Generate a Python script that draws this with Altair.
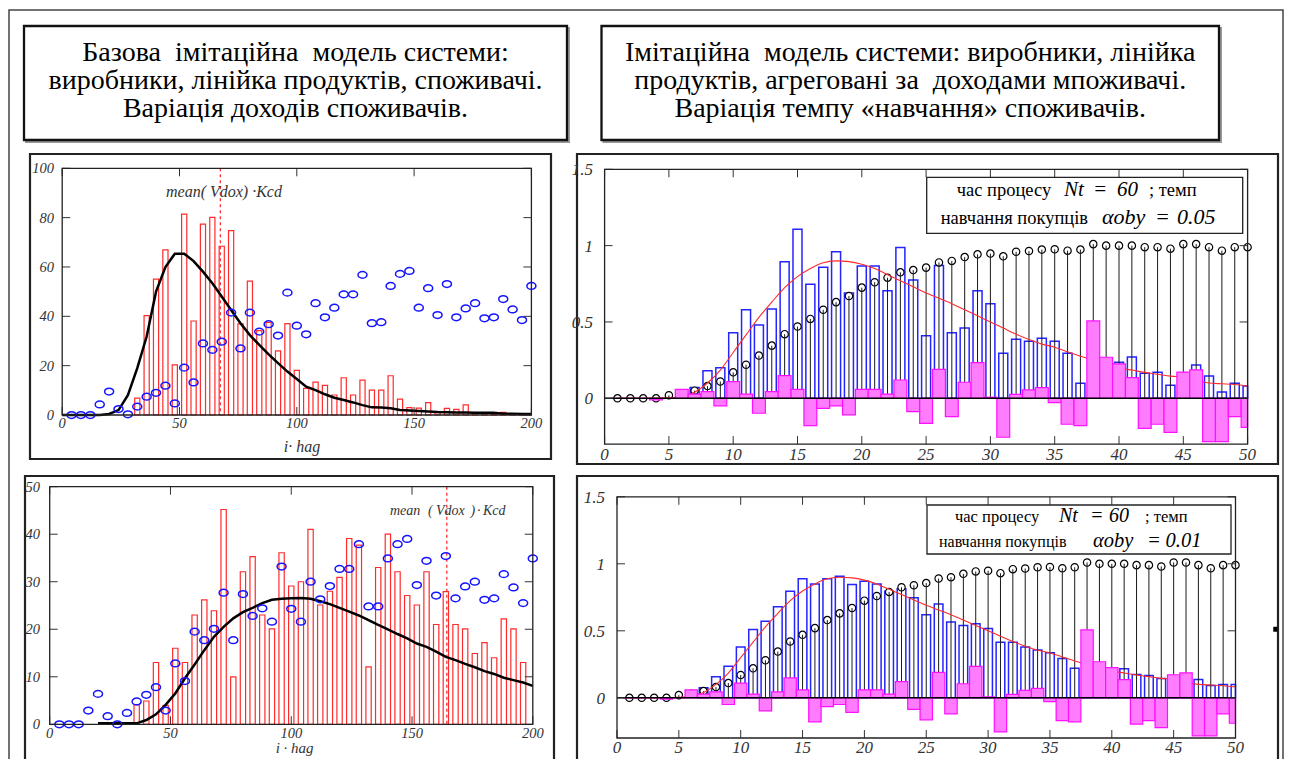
import altair as alt
import pandas as pd

# ---------------- data ----------------
# left-top panel: i*hag axis 0..200
TL_X = list(range(4, 201, 4))
TL_CIRC = [0, 0, 0, 4.3, 9.5, 2.4, 0.3, 3.4, 7.4, 9, 11.9, 4.7, 19.2, 13.2, 29, 26.4, 29.7, 41.5, 27, 41.5,
           33.8, 36.8, 32.2, 49.6, 36.2, 32.7, 45.3, 39.6, 43.5, 48.9, 48.9, 56.8, 37.2, 37.6, 52.3, 57.2,
           58.4, 43.5, 51.4, 40.5, 53.1, 39.6, 43.2, 45.3, 39.2, 39.6, 47, 42.8, 38.5, 52.3]
TL_BAR_X = list(range(32, 197, 4))
TL_BAR = [6.8, 40.3, 55.1, 66.9, 20.3, 81.4, 38.1, 77.4, 80.1, 68.4, 74.7, 36.9, 54.3, 34.2, 37.5, 26, 37,
          18.1, 10.8, 13.3, 12, 8.1, 15.1, 8.1, 14.1, 10.1, 10.1, 15.9, 6.4, 3, 2.8, 5, 1, 2.7, 2.3, 4.1,
          0.8, 0.5, 0.3, 1.1, 0.3, 0.2]
TL_LINE_X = list(range(0, 201, 4))
TL_LINE = [0, 0, 0, 0, 0, 0.4, 2, 8, 19, 31.8, 50, 60, 65.4, 65.4, 62.4, 58.1, 53.4, 48, 42.6, 37.2, 32.4,
           28.4, 24.6, 21, 17.6, 14.6, 11.5, 10.1, 8.4, 7, 6.1, 5.1, 4, 3.1, 3, 2.7, 2, 1.8, 1.6, 1.4, 1.2,
           1.1, 1, 1, 0.9, 0.9, 0.9, 0.5, 0.5, 0.4, 0.4]
TL_MEAN = [67.4]

# left-bottom panel
BL_X = list(range(4, 201, 4))
BL_CIRC = [0, 0, 0, 2.9, 6.4, 1.7, 0, 2.4, 4.8, 6.2, 7.8, 2.9, 12.8, 9.1, 19.5, 17.7, 20.1, 27.7, 17.7, 27.4,
           22.8, 24.4, 21.6, 33.2, 24.3, 21.6, 30, 26.3, 29.1, 32.7, 32.7, 37.9, 24.8, 24.8, 34.9, 37.9, 39,
           29.3, 34.4, 27.1, 35.4, 26.5, 29, 30, 26.2, 26.5, 31.6, 28.8, 25.5, 34.9]
BL_BAR_X = list(range(36, 197, 4))
BL_BAR = [4.1, 4.9, 13, 4, 16, 13, 23, 26.2, 23.9, 45.2, 10, 32.1, 35.3, 23, 20.1, 36.1, 29.1, 30, 41, 25.1,
          28, 30.9, 39.1, 37.7, 12.1, 33, 40, 32.1, 27.1, 25.1, 32.1, 21, 27.9, 21, 20.1, 14.9, 17.2, 14,
          22.2, 20.1, 13]
BL_LINE_X = list(range(20, 201, 4))
BL_LINE = [0.2, 0.2, 0.2, 0.2, 0.2, 0.9, 2.1, 4.1, 6.5, 9.7, 12.6, 15.6, 18.4, 20.5, 22.3, 23.6, 24.5, 25.5,
           26.2, 26.4, 26.5, 26.6, 26.4, 25.9, 25.3, 24.5, 23.7, 22.9, 21.9, 20.9, 20, 19, 18.1, 17, 16.3,
           15.3, 14.2, 13.5, 12.7, 12, 11.2, 10.6, 9.8, 9.3, 8.8, 8.1]
BL_MEAN = [164.4]

# right panels: step 1..50
R_X = list(range(1, 51))
R_CIRC = [0, 0, 0, 0, 0.02, 0.03, 0.05, 0.08, 0.11, 0.17, 0.22, 0.28, 0.345, 0.42, 0.47, 0.52, 0.58, 0.63,
          0.67, 0.725, 0.76, 0.79, 0.825, 0.84, 0.856, 0.89, 0.9, 0.925, 0.943, 0.948, 0.93, 0.96, 0.965,
          0.974, 0.976, 0.967, 0.974, 1.01, 1.0, 1.0, 1.0, 0.99, 0.99, 0.98, 1.01, 1.01, 0.99, 0.967, 0.99, 0.99]
R_CURVE = [0, 0, 0, 0, 0.003, 0.012, 0.04, 0.1, 0.185, 0.3, 0.415, 0.53, 0.63, 0.725, 0.797, 0.85, 0.888,
           0.9, 0.895, 0.878, 0.85, 0.81, 0.77, 0.73, 0.69, 0.655, 0.62, 0.58, 0.54, 0.5, 0.46, 0.42, 0.385,
           0.355, 0.335, 0.305, 0.275, 0.25, 0.225, 0.2, 0.185, 0.17, 0.158, 0.145, 0.14, 0.115, 0.1, 0.095,
           0.09, 0.08]
R_DIFF = [0, 0, 0, -0.01, 0, 0.059, 0.028, 0.044, -0.05, 0.109, 0.028, -0.098, 0.044, 0.148, 0.059, -0.179,
          -0.066, -0.05, -0.109, 0.059, 0.059, 0.028, 0.12, -0.087, -0.164, 0.19, -0.12, 0.105, 0.234, 0.007,
          -0.255, 0.026, 0.055, 0.07, -0.028, -0.17, -0.179, 0.507, 0.269, 0.225, 0.135, -0.197, -0.17,
          -0.223, 0.172, 0.186, -0.284, -0.284, -0.12, -0.19]
TR_BLUE = [None] * 6 + [0.07, 0.18, 0.20, 0.43, 0.58, 0.48, 0.585, 0.895, 1.107, 0.747, 0.858, 0.96, 0.69,
                        0.867, 0.867, 0.705, 0.987, 0.775, 0.41, 0.87, 0.43, 0.46, 0.705, 0.62, 0.295, 0.386,
                        0.373, 0.393, 0.373, 0.295, 0.098, 0.30, 0.22, 0.236, 0.27, 0.164, 0.17, 0.085, 0.15,
                        0.218, 0.146, 0.041, 0.098, 0.08]
BR_BLUE = [None] * 6 + [0.075, 0.157, 0.236, 0.38, 0.51, 0.572, 0.68, 0.796, 0.888, 0.85, 0.888, 0.908,
                        0.846, 0.87, 0.85, 0.796, 0.813, 0.746, 0.62, 0.70, 0.565, 0.54, 0.552, 0.517, 0.415,
                        0.415, 0.38, 0.356, 0.336, 0.294, 0.221, 0.26, 0.24, 0.2, 0.216, 0.174, 0.167, 0.144,
                        0.13, 0.12, 0.137, 0.092, 0.1, 0.1]

LEFT_XTICKS = [0, 50, 100, 150, 200]
TL_YTICKS = [0, 20, 40, 60, 80, 100]
BL_YTICKS = [0, 10, 20, 30, 40, 50]
R_XTICKS = list(range(0, 51, 5))
R_YTICKS = [0, 0.5, 1, 1.5]
R_YTICK_LABELS = ["0", "0.5", "1", "1.5"]

LEFT_TITLE = ["Базова\u00a0 імітаційна\u00a0 модель системи:",
              "виробники, лінійка продуктів, споживачі.",
              "Варіація доходів споживачів."]
RIGHT_TITLE = ["Імітаційна\u00a0 модель системи: виробники, лінійка",
               "продуктів, агреговані за\u00a0 доходами мпоживачі.",
               "Варіація темпу «навчання» споживачів."]

# ---------------- helpers ----------------
OX, OY = 8, 8
FONT = "Liberation Serif, Times New Roman, DejaVu Serif, serif"
LBL = "#333333"
TICK = "#333333"
ELLIPSE = "M-1,0A1,0.75,0,1,1,1,0A1,0.75,0,1,1,-1,0Z"
ONE = pd.DataFrame({"k": [0]})


def P(x):
    return x - OX


def Q(y):
    return y - OY


def box(x0, y0, x1, y1, stroke="#000", sw=1.5, fill=None):
    kw = dict(stroke=stroke, strokeWidth=sw)
    if fill:
        kw["fill"] = fill
    else:
        kw["filled"] = False
    return alt.Chart(ONE).mark_rect(**kw).encode(
        x=alt.value(P(x0)), x2=alt.value(P(x1)), y=alt.value(Q(y0)), y2=alt.value(Q(y1)))


def label(s, x, y, size, italic=False, align="left", baseline="alphabetic", color="#000"):
    kw = dict(text=s, font=FONT, fontSize=size, align=align, baseline=baseline, color=color)
    if italic:
        kw["fontStyle"] = "italic"
    return alt.Chart(ONE).mark_text(**kw).encode(x=alt.value(P(x)), y=alt.value(Q(y)))


def scales(xdom, L, R, ydom, B, T):
    xs = alt.Scale(domain=xdom, range=[P(L), P(R)], nice=False, zero=False)
    ys = alt.Scale(domain=ydom, range=[Q(B), Q(T)], nice=False, zero=False)
    return xs, ys


def axes(xs, ys, L, R, B, T, xticks, xlabels, yticks, ylabels, xlab_y, ylab_x, size, n=8):
    out = []
    dx = pd.DataFrame({"t": xticks, "s": xlabels})
    dy = pd.DataFrame({"t": yticks, "s": ylabels})
    for y0, y1 in [(B, B - n), (T, T + n)]:
        out.append(alt.Chart(dx).mark_rule(color=TICK, strokeWidth=1).encode(
            x=alt.X("t:Q", scale=xs, axis=None), y=alt.value(Q(y0)), y2=alt.value(Q(y1))))
    for x0, x1 in [(L, L + n), (R, R - n)]:
        out.append(alt.Chart(dy).mark_rule(color=TICK, strokeWidth=1).encode(
            y=alt.Y("t:Q", scale=ys, axis=None), x=alt.value(P(x0)), x2=alt.value(P(x1))))
    out.append(alt.Chart(dx).mark_text(font=FONT, fontStyle="italic", fontSize=size, color=LBL,
                                       align="center", baseline="middle").encode(
        x=alt.X("t:Q", scale=xs, axis=None), y=alt.value(Q(xlab_y)), text="s:N"))
    out.append(alt.Chart(dy).mark_text(font=FONT, fontStyle="italic", fontSize=size, color=LBL,
                                       align="right", baseline="middle", dy=1).encode(
        y=alt.Y("t:Q", scale=ys, axis=None), x=alt.value(P(ylab_x)), text="s:N"))
    out.append(box(L, T, R, B, stroke="#222", sw=1.3))
    return out


def left_panel(L, R, B, T, ymax, bx, bv, lx, lv, cx, cv, mean, yticks, xlab_y, ylab_x):
    xs, ys = scales([0, 200], L, R, [0, ymax], B, T)
    bars = pd.DataFrame({"x": bx, "v": bv})
    bars["x0"] = bars["x"] - 1.1
    bars["x1"] = bars["x"] + 1.1
    bars["b"] = 0.0
    out = [alt.Chart(bars).mark_rect(filled=False, stroke="#ff2b2b", strokeWidth=1.2).encode(
        x=alt.X("x0:Q", scale=xs, axis=None), x2="x1:Q",
        y=alt.Y("b:Q", scale=ys, axis=None), y2="v:Q")]
    out.append(alt.Chart(pd.DataFrame({"m": mean})).mark_rule(
        color="#ff2020", strokeWidth=1.2, strokeDash=[3, 3]).encode(
        x=alt.X("m:Q", scale=xs, axis=None), y=alt.value(Q(T)), y2=alt.value(Q(B))))
    out.append(alt.Chart(pd.DataFrame({"x": lx, "v": lv})).mark_line(
        color="#000", strokeWidth=2.5).encode(
        x=alt.X("x:Q", scale=xs, axis=None), y=alt.Y("v:Q", scale=ys, axis=None)))
    out.append(alt.Chart(pd.DataFrame({"x": cx, "v": cv})).mark_point(
        shape=ELLIPSE, size=81, filled=False, stroke="#1414ff", strokeWidth=1.5, opacity=1).encode(
        x=alt.X("x:Q", scale=xs, axis=None), y=alt.Y("v:Q", scale=ys, axis=None)))
    out += axes(xs, ys, L, R, B, T, LEFT_XTICKS, [str(t) for t in LEFT_XTICKS],
                yticks, [str(t) for t in yticks], xlab_y, ylab_x, 14.5)
    return out


def right_panel(L, R, B, T, blue):
    xs, ys = scales([0, 50], L, R, [-0.3, 1.5], B, T)
    bl = pd.DataFrame({"x": R_X, "v": blue}).dropna()
    bl["x0"] = bl["x"] - 0.35
    bl["x1"] = (bl["x"] + 0.35).clip(upper=50)
    bl["b"] = 0.0
    mg = pd.DataFrame({"x": R_X, "v": R_DIFF})
    mg["x0"] = mg["x"] - 0.5
    mg["x1"] = (mg["x"] + 0.5).clip(upper=50)
    mg["b"] = 0.0
    st = pd.DataFrame({"x": R_X, "v": R_CIRC, "b": 0.0})
    cu = pd.DataFrame({"x": R_X, "v": R_CURVE})
    out = [
        alt.Chart(bl).mark_rect(filled=False, stroke="#2424ff", strokeWidth=1.5).encode(
            x=alt.X("x0:Q", scale=xs, axis=None), x2="x1:Q",
            y=alt.Y("b:Q", scale=ys, axis=None), y2="v:Q"),
        alt.Chart(st).mark_point(shape="circle", size=54, filled=True, fill="white", stroke="#000",
                                 strokeWidth=1.2, opacity=1).encode(
            x=alt.X("x:Q", scale=xs, axis=None), y=alt.Y("v:Q", scale=ys, axis=None)),
        alt.Chart(st).mark_rule(color="#1a1a1a", strokeWidth=1).encode(
            x=alt.X("x:Q", scale=xs, axis=None), y=alt.Y("b:Q", scale=ys, axis=None), y2="v:Q"),
        alt.Chart(cu).mark_line(color="#ff2a2a", strokeWidth=1.1, interpolate="monotone").encode(
            x=alt.X("x:Q", scale=xs, axis=None), y=alt.Y("v:Q", scale=ys, axis=None)),
        alt.Chart(mg).mark_rect(fill="#ff7cff", stroke="#ff10ff", strokeWidth=1.2).encode(
            x=alt.X("x0:Q", scale=xs, axis=None), x2="x1:Q",
            y=alt.Y("b:Q", scale=ys, axis=None), y2="v:Q"),
        alt.Chart(pd.DataFrame({"a": [0], "c": [50], "z": [0]})).mark_rule(
            color="#000", strokeWidth=1.5).encode(
            x=alt.X("a:Q", scale=xs, axis=None), x2="c:Q", y=alt.Y("z:Q", scale=ys, axis=None)),
    ]
    return out, xs, ys


layers = []

# outer frame
layers.append(box(9, 10, 1283, 790, stroke="#444", sw=1.5))

# title boxes
for (x0, x1, lines) in [(24, 567, LEFT_TITLE), (601.5, 1219, RIGHT_TITLE)]:
    layers.append(box(x0 + 2, 28, x1 + 2, 142, stroke="#999", sw=2))
    layers.append(box(x0, 26, x1, 140, stroke="#111", sw=2.3, fill="white"))
    cx = (x0 + x1) / 2
    for s, yb in zip(lines, [60.7, 89.3, 117.3]):
        layers.append(label(s, cx, yb, 28, align="center"))

# panel frames
layers.append(box(30, 154, 551, 459, stroke="#222", sw=2.2))
layers.append(box(25, 476, 554, 761, stroke="#222", sw=2.2))
layers.append(box(577, 154, 1278, 464, stroke="#222", sw=2.2))
layers.append(box(577, 476, 1278, 760, stroke="#222", sw=2.2))

# ---- top-left ----
layers += left_panel(62.2, 531.4, 415, 168.3, 100, TL_BAR_X, TL_BAR, TL_LINE_X, TL_LINE, TL_X, TL_CIRC,
                     TL_MEAN, TL_YTICKS, 424, 54)
layers.append(label("mean(\u00a0Vdox)\u00a0·Kcd", 166, 196.5, 16, italic=True, color="#333"))
layers.append(label("i·\u00a0hag", 302, 447, 16, italic=True, align="center", baseline="middle", color="#333"))

# ---- bottom-left ----
layers += left_panel(49.7, 532.8, 724.3, 486.7, 50, BL_BAR_X, BL_BAR, BL_LINE_X, BL_LINE, BL_X, BL_CIRC,
                     BL_MEAN, BL_YTICKS, 734, 40)
for s, x in [("mean", 390), ("(", 428), ("Vdox", 436), (")", 470.6), ("·", 477), ("Kcd", 483)]:
    layers.append(label(s, x, 515, 14, italic=True, color="#333"))
layers.append(label("i\u00a0·\u00a0hag", 294.6, 748, 15, italic=True, align="center", baseline="middle",
                    color="#333"))

# ---- top-right ----
tr, xs, ys = right_panel(604.6, 1247.6, 444.1, 169.3, TR_BLUE)
layers += tr
layers += axes(xs, ys, 604.6, 1247.6, 444.1, 169.3, R_XTICKS, [str(t) for t in R_XTICKS],
               R_YTICKS, R_YTICK_LABELS, 455, 593, 17)
layers.append(box(926.7, 177.3, 1242.7, 233.3, stroke="#222", sw=1.3, fill="white"))
for s, x, y, sz, it in [("час процесу", 956.7, 195.5, 18.5, False), ("Nt", 1064, 195.5, 21, True),
                        ("=", 1093, 195.5, 21, True), ("60", 1117, 195.5, 21, True),
                        ("; темп", 1149, 195.5, 18.5, False),
                        ("навчання покупців", 940.7, 223.5, 18.5, False), ("αoby", 1102, 223.5, 22, True),
                        ("=", 1155, 223.5, 22, True), ("0.05", 1177, 223.5, 22, True)]:
    layers.append(label(s, x, y, sz, italic=it))

# ---- bottom-right ----
br, xs, ys = right_panel(617, 1235.5, 738, 496.8, BR_BLUE)
layers += br
layers += axes(xs, ys, 617, 1235.5, 738, 496.8, R_XTICKS, [str(t) for t in R_XTICKS],
               R_YTICKS, R_YTICK_LABELS, 748, 605, 17)
layers.append(box(927, 505, 1231, 554, stroke="#222", sw=1.3, fill="white"))
for s, x, y, sz, it in [("час процесу", 955, 521.5, 16.5, False), ("Nt", 1059, 521.5, 20, True),
                        ("=", 1090, 521.5, 20, True), ("60", 1109, 521.5, 20, True),
                        ("; темп", 1145, 521.5, 16.5, False),
                        ("навчання покупців", 939, 546.5, 16, False), ("αoby", 1093, 546.5, 20.5, True),
                        ("=", 1147, 546.5, 20.5, True), ("0.01", 1165.5, 546.5, 20.5, True)]:
    layers.append(label(s, x, y, sz, italic=it))

# tiny mark near the right frame
layers.append(box(1273.5, 627, 1277, 631.5, stroke="#000", sw=0.5, fill="#000"))

chart = alt.layer(*layers).resolve_scale(x="independent", y="independent").properties(
    width=1276, height=751, padding=0, autosize=alt.AutoSizeParams(type="none")
).configure_view(stroke="transparent")

chart.save("out.html", embed_options={"renderer": "svg", "actions": False})
